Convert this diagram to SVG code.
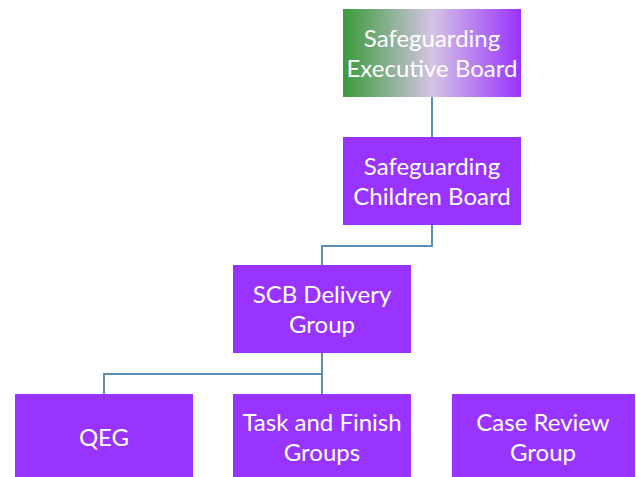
<svg xmlns="http://www.w3.org/2000/svg" width="636" height="477" viewBox="0 0 636 477">
<defs>
<linearGradient id="g1" x1="0" y1="0" x2="1" y2="0">
<stop offset="0" stop-color="#3A9A3A"/>
<stop offset="0.5" stop-color="#D4C4E4"/>
<stop offset="1" stop-color="#9933FF"/>
</linearGradient>
<style>
.box{fill:#9933FF;}
.t{fill:#FFFFFF;font-family:Lato,"Open Sans",sans-serif;font-size:24px;text-anchor:middle;}
.c{fill:none;stroke:#5B8DB8;stroke-width:2;}
</style>
</defs>
<rect width="636" height="477" fill="#FFFFFF"/>
<g id="connectors">
<path class="c" d="M432 97V137"/>
<path class="c" d="M432 225V246H322V265"/>
<path class="c" d="M322 353V394"/>
<path class="c" d="M322 374H104V394"/>
</g>
<g id="exec">
<rect x="343" y="9" width="178" height="88" fill="url(#g1)"/>
<text class="t" x="432" y="47">Safeguarding</text>
<text class="t" x="432" y="77">Executive Board</text>
</g>
<g id="children">
<rect class="box" x="343" y="137" width="178" height="88"/>
<text class="t" x="432" y="175">Safeguarding</text>
<text class="t" x="432" y="205">Children Board</text>
</g>
<g id="scb">
<rect class="box" x="233" y="265" width="178" height="88"/>
<text class="t" x="322" y="303">SCB Delivery</text>
<text class="t" x="322" y="333">Group</text>
</g>
<g id="qeg">
<rect class="box" x="15" y="394" width="178" height="83"/>
<text class="t" x="104" y="446">QEG</text>
</g>
<g id="task">
<rect class="box" x="233" y="394" width="178" height="83"/>
<text class="t" x="322" y="431">Task and Finish</text>
<text class="t" x="322" y="461">Groups</text>
</g>
<g id="case">
<rect class="box" x="452" y="394" width="183" height="83"/>
<text class="t" x="543" y="431">Case Review</text>
<text class="t" x="543" y="461">Group</text>
</g>
</svg>
